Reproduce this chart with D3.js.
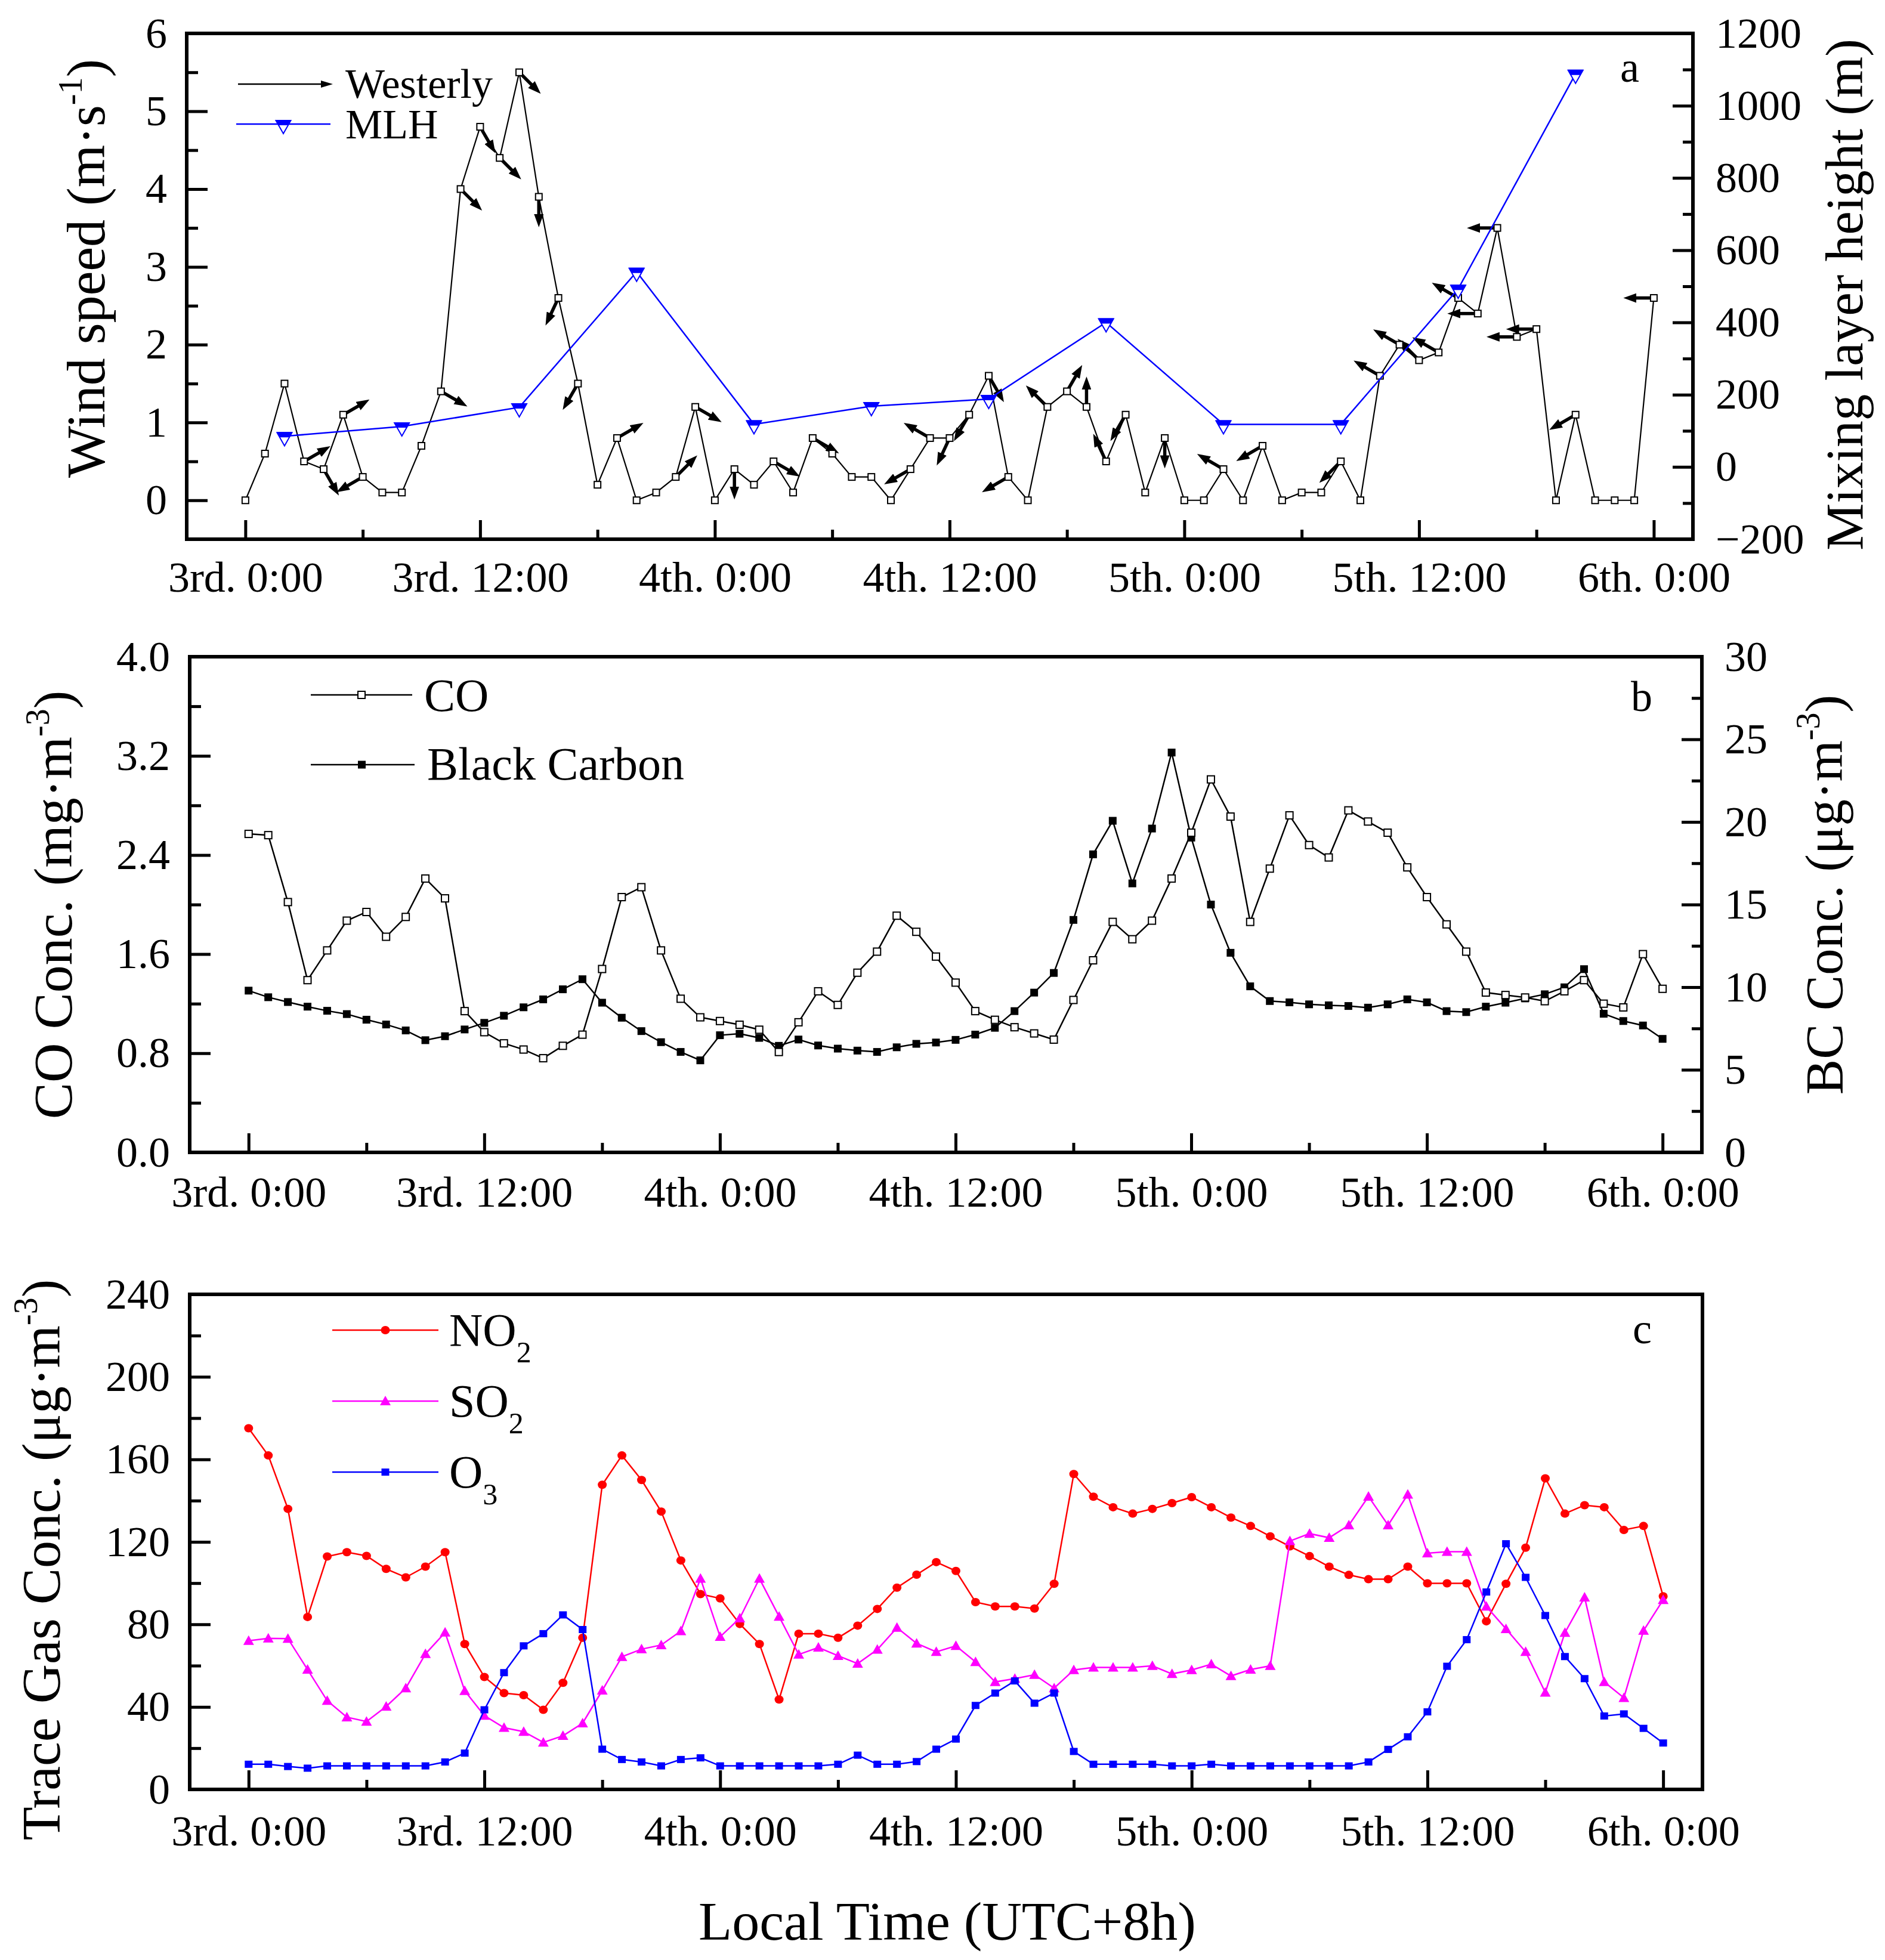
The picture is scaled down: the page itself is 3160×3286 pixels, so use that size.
<!DOCTYPE html>
<html>
<head>
<meta charset="utf-8">
<script src="https://cdn.jsdelivr.net/npm/d3@7/dist/d3.min.js"></script>
<style>
body { margin: 0; background: #fff; }
text { font-family: "Liberation Serif", "Times New Roman", serif; fill: #000; }
</style>
</head>
<body>
<div id="chart-area"></div>
<script>
/*
*    three stacked panels: wind + MLH, CO + BC, trace gases
*/
// hour 0 = 3rd 0:00, one value per hour
var hours = d3.range(0, 73);
var xMajor = [0, 12, 24, 36, 48, 60, 72];
var xMinor = [6, 18, 30, 42, 54, 66];
var xLabels = ["3rd. 0:00", "3rd. 12:00", "4th. 0:00", "4th. 12:00", "5th. 0:00", "5th. 12:00", "6th. 0:00"];

var windSpeed = [0, 0.6, 1.5, 0.5, 0.4, 1.1, 0.3, 0.1, 0.1, 0.7,
    1.4, 4.0, 4.8, 4.4, 5.5, 3.9, 2.6, 1.5, 0.2, 0.8,
    0, 0.1, 0.3, 1.2, 0, 0.4, 0.2, 0.5, 0.1, 0.8,
    0.6, 0.3, 0.3, 0, 0.4, 0.8, 0.8, 1.1, 1.6, 0.3,
    0, 1.2, 1.4, 1.2, 0.5, 1.1, 0.1, 0.8, 0, 0,
    0.4, 0, 0.7, 0, 0.1, 0.1, 0.5, 0, 1.6, 2.0,
    1.8, 1.9, 2.6, 2.4, 3.5, 2.1, 2.2, 0, 1.1, 0,
    0, 0, 2.6];
// direction the arrow points to (degrees, 0 = up), null = no arrow
var windDir = [null, null, null, 60, 150, 60, 240, null, null, null,
    120, 135, 150, 135, 135, 180, 205, 210, null, 60,
    null, null, 45, 120, null, 180, null, 120, null, 120,
    null, null, null, null, 240, 300, 205, 210, 150, 240,
    null, 315, 30, 0, 335, 210, null, 180, null, null,
    300, null, 240, null, null, null, 225, null, 300, 300,
    315, 300, 300, 270, 270, 270, 270, null, 240, null,
    null, null, 270];
var mlhHours = [2, 8, 14, 20, 26, 32, 38, 44, 50, 56, 62, 68];
var mlh = [85, 112, 165, 540, 118, 168, 188, 400, 118, 118, 493, 1088];

var co = [2.57, 2.56, 2.02, 1.39, 1.63, 1.87, 1.94, 1.74, 1.90, 2.21,
    2.05, 1.14, 0.97, 0.88, 0.83, 0.76, 0.86, 0.95, 1.48, 2.06,
    2.14, 1.63, 1.24, 1.09, 1.06, 1.03, 0.99, 0.81, 1.05, 1.30,
    1.19, 1.45, 1.62, 1.91, 1.78, 1.58, 1.37, 1.14, 1.07, 1.01,
    0.96, 0.91, 1.23, 1.55, 1.86, 1.72, 1.87, 2.21, 2.58, 3.01,
    2.71, 1.86, 2.29, 2.72, 2.48, 2.38, 2.76, 2.67, 2.58, 2.30,
    2.06, 1.84, 1.62, 1.29, 1.27, 1.25, 1.22, 1.30, 1.39, 1.20,
    1.17, 1.60, 1.32];
var bc = [9.79, 9.39, 9.10, 8.82, 8.57, 8.37, 8.03, 7.74, 7.38, 6.79,
    7.03, 7.44, 7.84, 8.27, 8.78, 9.26, 9.87, 10.48, 9.06, 8.15,
    7.34, 6.67, 6.08, 5.57, 7.09, 7.18, 6.93, 6.45, 6.83, 6.47,
    6.28, 6.16, 6.08, 6.36, 6.57, 6.65, 6.81, 7.13, 7.54, 8.55,
    9.67, 10.86, 14.07, 18.04, 20.07, 16.28, 19.60, 24.20, 19.05, 15.0,
    12.08, 10.05, 9.16, 9.08, 8.96, 8.90, 8.86, 8.76, 8.96, 9.26,
    9.08, 8.55, 8.49, 8.82, 9.06, 9.32, 9.57, 9.99, 11.09, 8.39,
    7.95, 7.68, 6.87];

var no2 = [175.1, 161.9, 136.0, 83.6, 112.9, 115.0, 113.2, 106.9, 102.8, 108.0,
    115.0, 70.5, 54.5, 46.7, 45.7, 38.6, 51.7, 73.5, 147.7, 161.9,
    150.0, 134.7, 111.0, 94.7, 92.6, 80.2, 70.5, 43.6, 75.5, 75.5,
    73.5, 79.4, 87.5, 97.8, 104.1, 110.2, 105.9, 90.8, 88.7, 88.7,
    87.7, 99.7, 152.9, 141.9, 136.8, 133.7, 136.0, 138.8, 141.7, 136.8,
    131.8, 127.7, 122.7, 117.8, 113.1, 108.0, 104.0, 101.9, 101.9, 108.0,
    99.9, 99.9, 99.9, 81.5, 99.7, 117.2, 150.8, 133.7, 137.8, 136.8,
    125.8, 127.7, 93.6];
var so2 = [72.1, 73.2, 73.1, 58.1, 43.0, 35.0, 32.9, 40.2, 49.1, 65.7,
    76.1, 47.8, 35.8, 29.9, 28.0, 22.8, 26.0, 32.1, 48.0, 64.3,
    68.0, 70.0, 76.8, 102.2, 74.0, 83.0, 102.2, 83.8, 65.4, 68.8,
    64.8, 61.0, 67.8, 78.4, 70.8, 66.7, 69.6, 61.8, 52.1, 53.7,
    55.6, 49.1, 57.9, 59.1, 59.1, 59.1, 59.9, 56.0, 57.9, 60.7,
    55.0, 58.1, 59.9, 120.4, 124.0, 122.0, 128.1, 142.0, 128.1, 143.0,
    114.5, 115.2, 115.2, 88.7, 77.8, 66.7, 47.0, 76.0, 93.1, 52.1,
    44.4, 77.0, 91.9];
var o3 = [12.2, 12.2, 11.1, 10.3, 11.4, 11.4, 11.4, 11.4, 11.4, 11.4,
    13.3, 17.6, 38.6, 56.6, 69.6, 75.5, 84.6, 77.5, 19.5, 14.5,
    13.3, 11.4, 14.5, 15.3, 11.4, 11.4, 11.4, 11.4, 11.4, 11.4,
    12.2, 16.6, 12.2, 12.2, 13.5, 19.5, 24.4, 40.7, 46.7, 52.6,
    41.8, 46.7, 18.4, 12.2, 12.2, 12.2, 12.2, 11.4, 11.4, 12.2,
    11.4, 11.4, 11.4, 11.4, 11.4, 11.4, 11.4, 13.3, 19.4, 25.5,
    37.6, 59.7, 72.6, 95.7, 119.1, 102.8, 84.3, 64.4, 53.7, 35.6,
    36.6, 29.6, 22.5];

var W = 3160, H = 3286;
var svg = d3.select("#chart-area").append("svg")
    .attr("width", W)
    .attr("height", H);

svg.append("rect")
    .attr("width", W).attr("height", H)
    .attr("fill", "#fff");

var defs = svg.append("defs");
defs.append("marker")
    .attr("id", "head")
    .attr("viewBox", "0 0 22 16")
    .attr("refX", 1).attr("refY", 8)
    .attr("markerWidth", 22).attr("markerHeight", 16)
    .attr("markerUnits", "userSpaceOnUse")
    .attr("orient", "auto")
    .append("path").attr("d", "M0,0L22,8L0,16Z").attr("fill", "#000");
defs.append("marker")
    .attr("id", "headSmall")
    .attr("viewBox", "0 0 20 12")
    .attr("refX", 2).attr("refY", 6)
    .attr("markerWidth", 20).attr("markerHeight", 12)
    .attr("markerUnits", "userSpaceOnUse")
    .attr("orient", "auto")
    .append("path").attr("d", "M0,0L20,6L0,12Z").attr("fill", "#000");

var tickFont = 72, titleFont = 92, legendFont = 78;

// frame, ticks and tick labels of one panel
function drawFrame(p) {
    var g = svg.append("g");

    var ax = function(axis, tr, size, pad, vals, fmt) {
        var a = g.append("g")
            .attr("transform", tr)
            .call(axis.tickValues(vals).tickSize(size).tickPadding(pad).tickFormat(fmt));
        a.select(".domain").remove();
        a.attr("font-size", tickFont).attr("font-family", "Liberation Serif");
        a.selectAll(".tick line").attr("stroke", "#000").attr("stroke-width", 5);
        a.selectAll(".tick text").attr("fill", "#000");
        return a;
    };

    // x axis
    ax(d3.axisBottom(p.x), "translate(0," + p.bottom + ")", -32, p.xPad, xMajor, (d, i) => xLabels[i]);
    ax(d3.axisBottom(p.x), "translate(0," + p.bottom + ")", -16, 0, xMinor, "");
    // left axis
    ax(d3.axisLeft(p.yL), "translate(" + p.left + ",0)", -35, 33, p.lMajor, p.lFmt);
    ax(d3.axisLeft(p.yL), "translate(" + p.left + ",0)", -19, 0, p.lMinor, "");
    // right axis
    if (p.yR) {
        ax(d3.axisRight(p.yR), "translate(" + p.right + ",0)", -34, 38, p.rMajor, p.rFmt);
        ax(d3.axisRight(p.yR), "translate(" + p.right + ",0)", -17, 0, p.rMinor, "");
    }

    g.append("rect")
        .attr("x", p.left).attr("y", p.top)
        .attr("width", p.right - p.left).attr("height", p.bottom - p.top)
        .attr("fill", "none").attr("stroke", "#000").attr("stroke-width", 6);

    g.append("text")
        .attr("x", p.tagX).attr("y", p.tagY)
        .attr("text-anchor", "middle")
        .attr("font-size", tickFont)
        .text(p.tag);
}

// rotated axis title, sup = superscript part
function yTitle(x, y, size, main, sup) {
    var t = svg.append("text")
        .attr("transform", "translate(" + x + "," + y + ") rotate(-90)")
        .attr("text-anchor", "middle")
        .attr("font-size", size);
    t.append("tspan").text(main);
    if (sup) {
        t.append("tspan").attr("font-size", 56).attr("dy", -38).text(sup);
        t.append("tspan").attr("dy", 38).text(")");
    }
}

function squares(g, data, x, y, size, fill, sw) {
    g.selectAll(null).data(data).enter().append("rect")
        .attr("x", d => x(d.h) - size / 2)
        .attr("y", d => y(d.v) - size / 2)
        .attr("width", size).attr("height", size)
        .attr("fill", fill).attr("stroke", sw ? "#000" : "none").attr("stroke-width", sw);
}

function pairs(hs, vals) {
    return hs.map((h, i) => ({h: h, v: vals[i]}));
}

// ---------- panel a ----------
var xA = d3.scaleLinear().domain([-3, 74]).range([313, 2838]);
var yA = d3.scaleLinear().domain([-0.5, 6]).range([904, 56]);
var yA2 = d3.scaleLinear().domain([-200, 1200]).range([904, 56]);

drawFrame({
    x: xA, yL: yA, yR: yA2, left: 313, right: 2838, top: 56, bottom: 904, xPad: 37,
    lMajor: [0, 1, 2, 3, 4, 5, 6], lMinor: [-0.5, 0.5, 1.5, 2.5, 3.5, 4.5, 5.5], lFmt: d3.format("d"),
    rMajor: [-200, 0, 200, 400, 600, 800, 1000, 1200], rMinor: [-100, 100, 300, 500, 700, 900, 1100], rFmt: d3.format("d"),
    tag: "a", tagX: 2732, tagY: 137
});

var gA = svg.append("g");
var windData = pairs(hours, windSpeed).map((d, i) => ({h: d.h, v: d.v, dir: windDir[i]}));

gA.append("path")
    .datum(windData)
    .attr("d", d3.line().x(d => xA(d.h)).y(d => yA(d.v)))
    .attr("fill", "none").attr("stroke", "#000").attr("stroke-width", 2.2);

gA.selectAll(".arrow").data(windData.filter(d => d.dir !== null)).enter().append("line")
    .attr("class", "arrow")
    .attr("x1", d => xA(d.h))
    .attr("y1", d => yA(d.v))
    .attr("x2", d => xA(d.h) + 30 * Math.sin(d.dir * Math.PI / 180))
    .attr("y2", d => yA(d.v) - 30 * Math.cos(d.dir * Math.PI / 180))
    .attr("stroke", "#000").attr("stroke-width", 5.5)
    .attr("marker-end", "url(#head)");

squares(gA, windData, xA, yA, 11, "#fff", 2);

var mlhData = pairs(mlhHours, mlh);
gA.append("path")
    .datum(mlhData)
    .attr("d", d3.line().x(d => xA(d.h)).y(d => yA2(d.v)))
    .attr("fill", "none").attr("stroke", "#0000ff").attr("stroke-width", 2.5);

function downTri(g, cx, cy) {
    g.append("path")
        .attr("d", "M" + (cx - 12.5) + "," + (cy - 6) + "L" + (cx + 12.5) + "," + (cy - 6) + "L" + cx + "," + (cy + 16) + "Z")
        .attr("fill", "#fff").attr("stroke", "#0000ff").attr("stroke-width", 2);
    g.append("path")
        .attr("d", "M" + (cx - 13) + "," + (cy - 7) + "L" + (cx + 13) + "," + (cy - 7) + "L" + (cx + 8.5) + "," + (cy + 2) + "L" + (cx - 8.5) + "," + (cy + 2) + "Z")
        .attr("fill", "#0000ff");
}
mlhData.forEach(d => downTri(gA, xA(d.h), yA2(d.v)));

// legend a
gA.append("line")
    .attr("x1", 399).attr("y1", 141).attr("x2", 540).attr("y2", 141)
    .attr("stroke", "#000").attr("stroke-width", 2.5)
    .attr("marker-end", "url(#headSmall)");
gA.append("text").attr("x", 579).attr("y", 164).attr("font-size", 70).text("Westerly");
gA.append("line")
    .attr("x1", 396).attr("y1", 208).attr("x2", 554).attr("y2", 208)
    .attr("stroke", "#0000ff").attr("stroke-width", 2.5);
downTri(gA, 475, 208);
gA.append("text").attr("x", 579).attr("y", 232).attr("font-size", 70).text("MLH");

yTitle(175, 450, titleFont, "Wind speed (m\u00b7s", "-1");
yTitle(3122, 494, 89, "Mixing layer height (m)");

// ---------- panel b ----------
var xB = d3.scaleLinear().domain([-3, 74]).range([318, 2853]);
var yB = d3.scaleLinear().domain([0, 4]).range([1932, 1101]);
var yB2 = d3.scaleLinear().domain([0, 30]).range([1932, 1101]);

drawFrame({
    x: xB, yL: yB, yR: yB2, left: 318, right: 2853, top: 1101, bottom: 1932, xPad: 40,
    lMajor: [0, 0.8, 1.6, 2.4, 3.2, 4.0], lMinor: [0.4, 1.2, 2.0, 2.8, 3.6], lFmt: d3.format(".1f"),
    rMajor: [0, 5, 10, 15, 20, 25, 30], rMinor: [2.5, 7.5, 12.5, 17.5, 22.5, 27.5], rFmt: d3.format("d"),
    tag: "b", tagX: 2752, tagY: 1192
});

var gB = svg.append("g");
var coData = pairs(hours, co);
var bcData = pairs(hours, bc);

gB.append("path").datum(bcData)
    .attr("d", d3.line().x(d => xB(d.h)).y(d => yB2(d.v)))
    .attr("fill", "none").attr("stroke", "#000").attr("stroke-width", 2.5);
squares(gB, bcData, xB, yB2, 13, "#000", 0);

gB.append("path").datum(coData)
    .attr("d", d3.line().x(d => xB(d.h)).y(d => yB(d.v)))
    .attr("fill", "none").attr("stroke", "#000").attr("stroke-width", 2.5);
squares(gB, coData, xB, yB, 12, "#fff", 2);

// legend b
gB.append("line").attr("x1", 521).attr("y1", 1165).attr("x2", 691).attr("y2", 1165)
    .attr("stroke", "#000").attr("stroke-width", 2.5);
gB.append("rect").attr("x", 600).attr("y", 1159).attr("width", 12).attr("height", 12)
    .attr("fill", "#fff").attr("stroke", "#000").attr("stroke-width", 2);
gB.append("text").attr("x", 711).attr("y", 1192).attr("font-size", legendFont).text("CO");
gB.append("line").attr("x1", 521).attr("y1", 1282).attr("x2", 695).attr("y2", 1282)
    .attr("stroke", "#000").attr("stroke-width", 2.5);
gB.append("rect").attr("x", 600).attr("y", 1275.5).attr("width", 13).attr("height", 13)
    .attr("fill", "#000");
gB.append("text").attr("x", 716).attr("y", 1307).attr("font-size", legendFont).text("Black Carbon");

yTitle(120, 1517, titleFont, "CO Conc. (mg\u00b7m", "-3");
yTitle(3088, 1500, 89, "BC Conc. (\u03bcg\u00b7m", "-3");

// ---------- panel c ----------
var xC = d3.scaleLinear().domain([-3, 74]).range([318, 2854]);
var yC = d3.scaleLinear().domain([0, 240]).range([3000, 2170]);

drawFrame({
    x: xC, yL: yC, left: 318, right: 2854, top: 2170, bottom: 3000, xPad: 43,
    lMajor: [0, 40, 80, 120, 160, 200, 240], lMinor: [20, 60, 100, 140, 180, 220], lFmt: d3.format("d"),
    tag: "c", tagX: 2753, tagY: 2252
});

var gC = svg.append("g");
var gasLine = d3.line().x(d => xC(d.h)).y(d => yC(d.v));

function circles(g, data, col) {
    g.selectAll(null).data(data).enter().append("ellipse")
        .attr("cx", d => xC(d.h)).attr("cy", d => yC(d.v))
        .attr("rx", 7.5).attr("ry", 7).attr("fill", col);
}
function triangles(g, data, col) {
    g.selectAll(null).data(data).enter().append("path")
        .attr("d", d => "M" + (xC(d.h) - 9) + "," + (yC(d.v) + 7) + "L" + (xC(d.h) + 9) + "," + (yC(d.v) + 7) + "L" + xC(d.h) + "," + (yC(d.v) - 9) + "Z")
        .attr("fill", col);
}
function blueSquares(g, data) {
    g.selectAll(null).data(data).enter().append("rect")
        .attr("x", d => xC(d.h) - 6.5).attr("y", d => yC(d.v) - 6)
        .attr("width", 13).attr("height", 12).attr("fill", "#0000ff");
}

var no2Data = pairs(hours, no2), so2Data = pairs(hours, so2), o3Data = pairs(hours, o3);

gC.append("path").datum(no2Data).attr("d", gasLine)
    .attr("fill", "none").attr("stroke", "#ff0000").attr("stroke-width", 2.5);
circles(gC, no2Data, "#ff0000");
gC.append("path").datum(so2Data).attr("d", gasLine)
    .attr("fill", "none").attr("stroke", "#ff00ff").attr("stroke-width", 2.5);
triangles(gC, so2Data, "#ff00ff");
gC.append("path").datum(o3Data).attr("d", gasLine)
    .attr("fill", "none").attr("stroke", "#0000ff").attr("stroke-width", 2.5);
blueSquares(gC, o3Data);

// legend c
var legC = [
    {name: "NO", sub: "2", col: "#ff0000", y: 2230, mark: "c"},
    {name: "SO", sub: "2", col: "#ff00ff", y: 2349, mark: "t"},
    {name: "O", sub: "3", col: "#0000ff", y: 2468, mark: "s"}
];
legC.forEach(function(l) {
    gC.append("line").attr("x1", 557).attr("y1", l.y).attr("x2", 735).attr("y2", l.y)
        .attr("stroke", l.col).attr("stroke-width", 2.5);
    if (l.mark === "c") {
        gC.append("ellipse").attr("cx", 646).attr("cy", l.y).attr("rx", 7.5).attr("ry", 7).attr("fill", l.col);
    } else if (l.mark === "t") {
        gC.append("path").attr("d", "M637," + (l.y + 7) + "L655," + (l.y + 7) + "L646," + (l.y - 9) + "Z").attr("fill", l.col);
    } else {
        gC.append("rect").attr("x", 639.5).attr("y", l.y - 6).attr("width", 13).attr("height", 12).attr("fill", l.col);
    }
    var t = gC.append("text").attr("x", 753).attr("y", l.y + 26).attr("font-size", legendFont);
    t.append("tspan").text(l.name);
    t.append("tspan").attr("font-size", 50).attr("dy", 28).text(l.sub);
});

yTitle(100, 2615, titleFont, "Trace Gas Conc. (\u03bcg\u00b7m", "-3");

svg.append("text")
    .attr("x", 1588).attr("y", 3252)
    .attr("text-anchor", "middle")
    .attr("font-size", titleFont)
    .text("Local Time (UTC+8h)");
</script>
</body>
</html>
